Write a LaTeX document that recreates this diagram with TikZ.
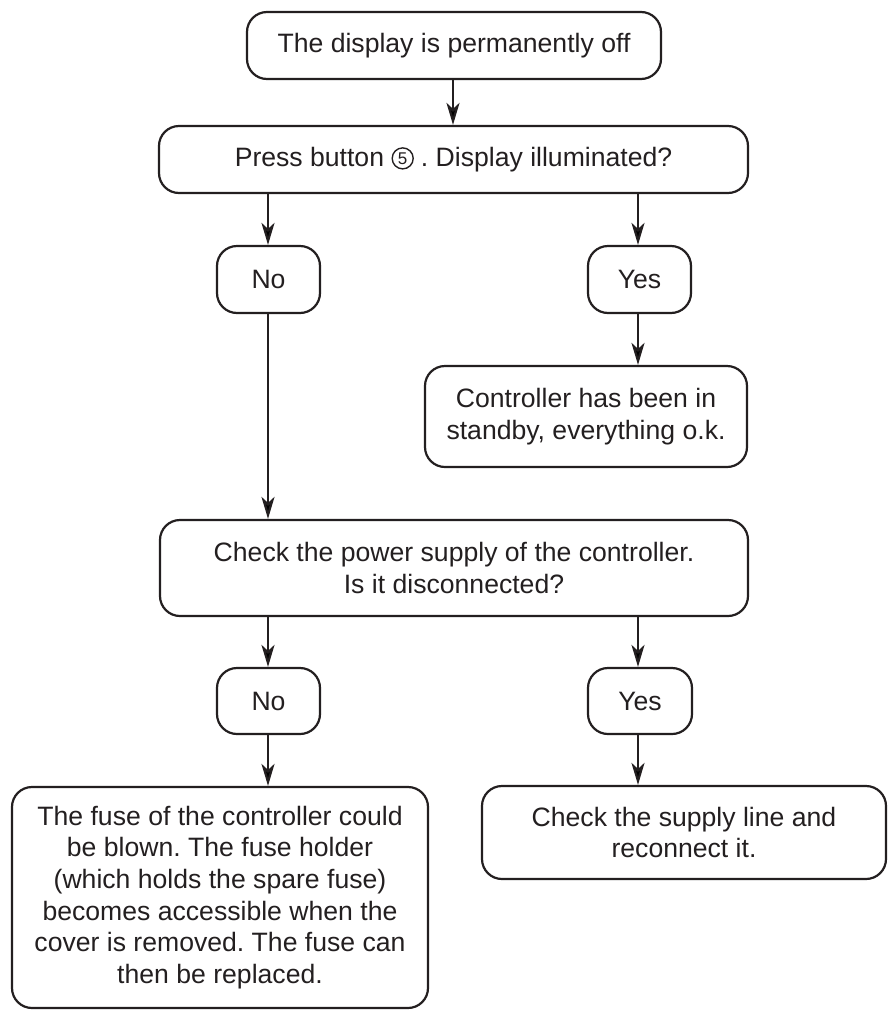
\documentclass[tikz,border=0pt]{standalone}
\usepackage{fontspec}
\setmainfont{Liberation Sans}
\usetikzlibrary{arrows.meta}
\definecolor{ink}{HTML}{231F20}
\tikzset{
  box/.style={draw=ink, line width=2.2pt, rounded corners=20pt, align=center,
    inner sep=0pt, text=ink, font=\fontsize{26.6}{31.7}\selectfont},
  arr/.style={draw=ink, line width=2.2pt, -{Stealth[length=22pt,width=13pt,inset=6pt]}},
  numcirc/.style={circle, draw=ink, line width=1.4pt, inner sep=0pt, minimum size=21pt,
    text=ink, font=\fontsize{17}{17}\selectfont}
}
\newcommand{\circfive}{\tikz[baseline=-8pt]\node[numcirc] (five) {5};}
\frenchspacing
\begin{document}
\begin{tikzpicture}[x=1pt,y=-1pt]
\useasboundingbox (0,0) rectangle (888,1010);
\node[box, minimum width=414pt, minimum height=67pt] (top) at (454,45.5) {The display is permanently off};
\node[box, minimum width=589pt, minimum height=67pt] (press) at (453.5,159.5) {Press button \circfive\hspace{7pt}. Display illuminated?};
\node[box, minimum width=103pt, minimum height=67pt] (no1) at (268.5,279.5) {No};
\node[box, minimum width=103pt, minimum height=67pt] (yes1) at (639.5,279.5) {Yes};
\node[box, minimum width=322pt, minimum height=101pt] (ctrl) at (586,416.5) {Controller has been in\\standby, everything o.k.};
\node[box, minimum width=588pt, minimum height=96pt] (check) at (454,568) {Check the power supply of the controller.\\Is it disconnected?};
\node[box, minimum width=103pt, minimum height=66pt] (no2) at (268.5,701) {No};
\node[box, minimum width=104pt, minimum height=66pt] (yes2) at (640,701) {Yes};
\node[box, minimum width=416pt, minimum height=221pt] (fuse) at (220,897.5) {The fuse of the controller could\\be blown. The fuse holder\\(which holds the spare fuse)\\becomes accessible when the\\cover is removed. The fuse can\\then be replaced.};
\node[box, minimum width=404pt, minimum height=93pt] (supply) at (684,832.5) {Check the supply line and\\reconnect it.};
\coordinate (xl) at (268,0);
\coordinate (xr) at (638,0);
\coordinate (xm) at (453,0);
\draw[arr] (xm |- top.south) -- (xm |- press.north);
\draw[arr] (xl |- press.south) -- (xl |- no1.north);
\draw[arr] (xr |- press.south) -- (xr |- yes1.north);
\draw[arr] (xr |- yes1.south) -- (xr |- ctrl.north);
\draw[arr] (xl |- no1.south) -- (xl |- check.north);
\draw[arr] (xl |- check.south) -- (xl |- no2.north);
\draw[arr] (xr |- check.south) -- (xr |- yes2.north);
\draw[arr] (xl |- no2.south) -- (xl |- fuse.north);
\draw[arr] (xr |- yes2.south) -- (xr |- supply.north);
\end{tikzpicture}
\end{document}
